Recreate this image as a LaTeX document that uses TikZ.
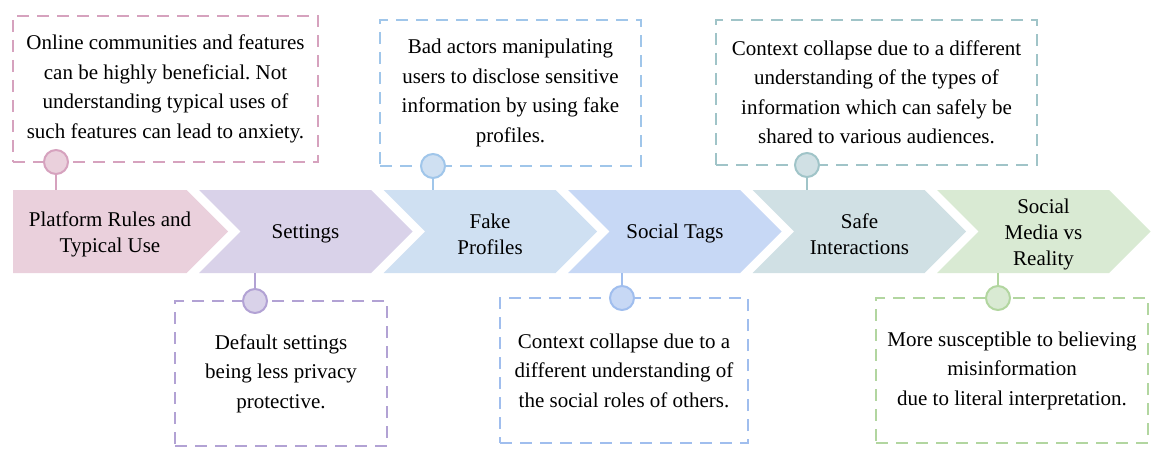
\documentclass[tikz,border=0pt]{standalone}
\usepackage{fontspec}
\setmainfont{Liberation Serif}
\frenchspacing
\definecolor{platfill}{RGB}{234,208,220} \definecolor{platline}{RGB}{214,162,190}
\definecolor{setfill}{RGB}{217,210,233} \definecolor{setline}{RGB}{178,162,212}
\definecolor{fakefill}{RGB}{207,224,242} \definecolor{fakeline}{RGB}{160,198,234}
\definecolor{tagfill}{RGB}{199,216,245} \definecolor{tagline}{RGB}{160,190,238}
\definecolor{safefill}{RGB}{208,224,228} \definecolor{safeline}{RGB}{160,196,200}
\definecolor{realfill}{RGB}{217,234,211} \definecolor{realline}{RGB}{178,214,160}
\tikzset{
  note/.style={draw, dash pattern=on 12pt off 8pt, line width=2.4pt, align=center, inner sep=0pt, font=\fontsize{21}{29.5}\selectfont},
  dot/.style={circle, draw, line width=2pt, minimum size=24pt, inner sep=0pt},
  steplabel/.style={align=center, font=\fontsize{21}{26}\selectfont},
  link/.style={line width=2.2pt}
}
\begin{document}
\begin{tikzpicture}[x=1pt, y=-1pt]
\useasboundingbox (0,0) rectangle (1156,460);
% arrow band
\fill[platfill] (13,190) -- (186.5,190) -- (228,231.5) -- (186.5,273) -- (13,273) -- cycle;
\fill[setfill] (199,190) -- (371,190) -- (412.5,231.5) -- (371,273) -- (199,273) -- (240.5,231.5) -- cycle;
\fill[fakefill] (383.5,190) -- (555.5,190) -- (597,231.5) -- (555.5,273) -- (383.5,273) -- (425,231.5) -- cycle;
\fill[tagfill] (568,190) -- (740,190) -- (781.5,231.5) -- (740,273) -- (568,273) -- (609.5,231.5) -- cycle;
\fill[safefill] (752.5,190) -- (924.5,190) -- (966,231.5) -- (924.5,273) -- (752.5,273) -- (794,231.5) -- cycle;
\fill[realfill] (937,190) -- (1109,190) -- (1150.5,231.5) -- (1109,273) -- (937,273) -- (978.5,231.5) -- cycle;
\node[steplabel] (s1) at (110,234) {Platform Rules and\\Typical Use};
\node[steplabel] (s2) at (305.5,233.5) {Settings};
\node[steplabel] (s3) at (490,234) {Fake\\Profiles};
\node[steplabel] (s4) at (675,233.5) {Social Tags};
\node[steplabel] (s5) at (859.5,234) {Safe\\Interactions};
\node[steplabel] (s6) at (1043.5,234) {Social\\Media vs\\Reality};
% notes
\node[note, platline, text=black, minimum width=305pt, minimum height=146pt] (n1) at (165.5,89) {Online communities and features\\can be highly beneficial. Not\\understanding typical uses of\\such features can lead to anxiety.};
\node[note, fakeline, text=black, minimum width=261pt, minimum height=146pt] (n3) at (510.5,93) {Bad actors manipulating\\users to disclose sensitive\\information by using fake\\profiles.};
\node[note, safeline, text=black, minimum width=321pt, minimum height=145pt] (n5) at (876.5,92.5) {Context collapse due to a different\\understanding of the types of\\information which can safely be\\shared to various audiences.};
\node[note, setline, text=black, minimum width=212pt, minimum height=145pt] (n2) at (281,373.5) {Default settings\\being less privacy\\protective.};
\node[note, tagline, text=black, minimum width=248pt, minimum height=145pt] (n4) at (624,370.5) {Context collapse due to a\\different understanding of\\the social roles of others.};
\node[note, realline, text=black, minimum width=272pt, minimum height=145pt] (n6) at (1012,370.5) {More susceptible to believing\\misinformation\\due to literal interpretation.};
% pins
\coordinate (c1) at (56,190); \coordinate (c3) at (433,190); \coordinate (c5) at (807,190);
\coordinate (c2) at (255,273); \coordinate (c4) at (622,273); \coordinate (c6) at (998,273);
\node[dot, platline, fill=platfill] (d1) at (56,162) {}; \draw[link, platline] (d1) -- (c1);
\node[dot, fakeline, fill=fakefill] (d3) at (433,166) {}; \draw[link, fakeline] (d3) -- (c3);
\node[dot, safeline, fill=safefill] (d5) at (807,165) {}; \draw[link, safeline] (d5) -- (c5);
\node[dot, setline, fill=setfill] (d2) at (255,301) {}; \draw[link, setline] (c2) -- (d2);
\node[dot, tagline, fill=tagfill] (d4) at (622,298) {}; \draw[link, tagline] (c4) -- (d4);
\node[dot, realline, fill=realfill] (d6) at (998,298) {}; \draw[link, realline] (c6) -- (d6);
\end{tikzpicture}
\end{document}
